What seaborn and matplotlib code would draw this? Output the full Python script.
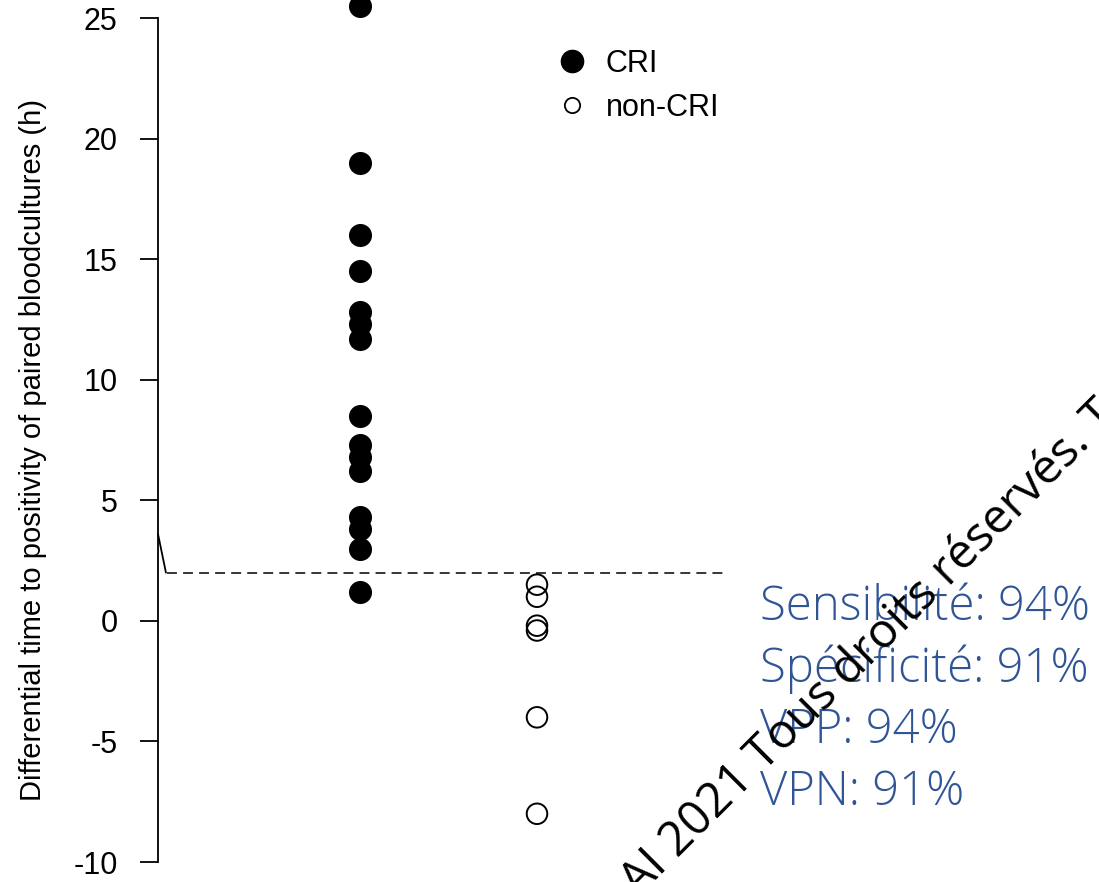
import pandas as pd
import matplotlib
matplotlib.use('Agg')
import matplotlib.pyplot as plt
from matplotlib.lines import Line2D
import seaborn as sns

# data (hours)
groups = ['CRI', 'non-CRI']
cri_values = [25.5, 19.0, 16.0, 14.5, 12.8, 12.3, 11.7, 8.5, 7.3, 6.8, 6.2, 4.3, 3.8, 3.0, 1.2]
noncri_values = [1.5, 1.0, -0.2, -0.4, -4.0, -8.0]
cutoff = 2
yticks = [-10, -5, 0, 5, 10, 15, 20, 25]
ylabel = 'Differential time to positivity of paired bloodcultures (h)'
stats_lines = ['Sensibilité: 94%', 'Spécificité: 91%', 'VPP: 94%', 'VPN: 91%']
watermark = 'AI 2021 Tous droits réservés. Toute'

df = pd.DataFrame({
    'group': ['CRI'] * len(cri_values) + ['non-CRI'] * len(noncri_values),
    'value': cri_values + noncri_values,
})

sns.set_style('white')
plt.rcParams['font.family'] = ['Liberation Sans', 'DejaVu Sans']
plt.rcParams['text.color'] = 'black'

fig = plt.figure(figsize=(10.99, 8.82), dpi=100)
ax = fig.add_axes([158 / 1099, 20 / 882, 567 / 1099, 844 / 882])

# filled points for CRI
sns.stripplot(data=df[df['group'] == 'CRI'], x='group', y='value', order=groups,
              color='black', size=16.6, jitter=False, linewidth=0, ax=ax)

# open points for non-CRI
sns.stripplot(data=df[df['group'] == 'non-CRI'], x='group', y='value', order=groups,
              color='black', size=14.8, jitter=False, linewidth=1.4, ax=ax)
pts = ax.collections[-1]
pts.set_facecolor('none')
pts.set_edgecolor('black')

for coll in ax.collections:
    coll.set_clip_on(False)

ax.set_xlim(-202 / 177, 1 + 188 / 177)
ax.set_ylim(-10, 25)

# cutoff line
ax.axhline(cutoff, xmin=0.015, xmax=1, color='black', lw=1.1, linestyle=(0, (6.5, 4)))
ax.plot([0, 0.014], [3.6, cutoff], transform=ax.get_yaxis_transform(),
        color='black', lw=1.3, clip_on=False)

sns.despine(ax=ax, left=False, bottom=True)
ax.spines['left'].set_linewidth(1.3)
ax.spines['left'].set_color('black')
ax.set_xticks([])
ax.set_xlabel('')
ax.set_yticks(yticks)
ax.set_yticklabels([str(t) for t in yticks])
ax.tick_params(axis='y', which='both', left=True, direction='out', length=13,
               width=1.3, color='black', pad=16, labelsize=22, labelcolor='black')
ax.set_ylabel(ylabel, fontsize=21, color='black')
ax.yaxis.set_label_coords(-0.2205, 0.488)
ax.yaxis.label.set_verticalalignment('center')

# legend
handles = [
    Line2D([], [], marker='o', linestyle='', color='black', markersize=16),
    Line2D([], [], marker='o', linestyle='', markerfacecolor='none',
           markeredgecolor='black', markersize=11, markeredgewidth=1.3),
]
fig.legend(handles, groups, loc='upper left', bbox_to_anchor=(557 / 1099, 1 - 49 / 882),
           frameon=False, fontsize=22, handlelength=0.95, handletextpad=0.65,
           labelspacing=0.45, borderpad=0, borderaxespad=0, labelcolor='black')

# performance figures
baselines = [620, 682, 743, 805]
for line, yb in zip(stats_lines, baselines):
    fig.text(760 / 1099, 1 - yb / 882, line, color='#2F5597', fontsize=34,
             family=['Open Sans', 'DejaVu Sans'], fontweight='light', va='baseline', ha='left')

# watermark
fig.text(638 / 1099, 1 - 898 / 882, watermark, rotation=45, rotation_mode='anchor',
         ha='left', va='baseline', fontsize=34.5, color='black',
         family=['Open Sans', 'DejaVu Sans'])

fig.savefig('out.png', dpi=100)
